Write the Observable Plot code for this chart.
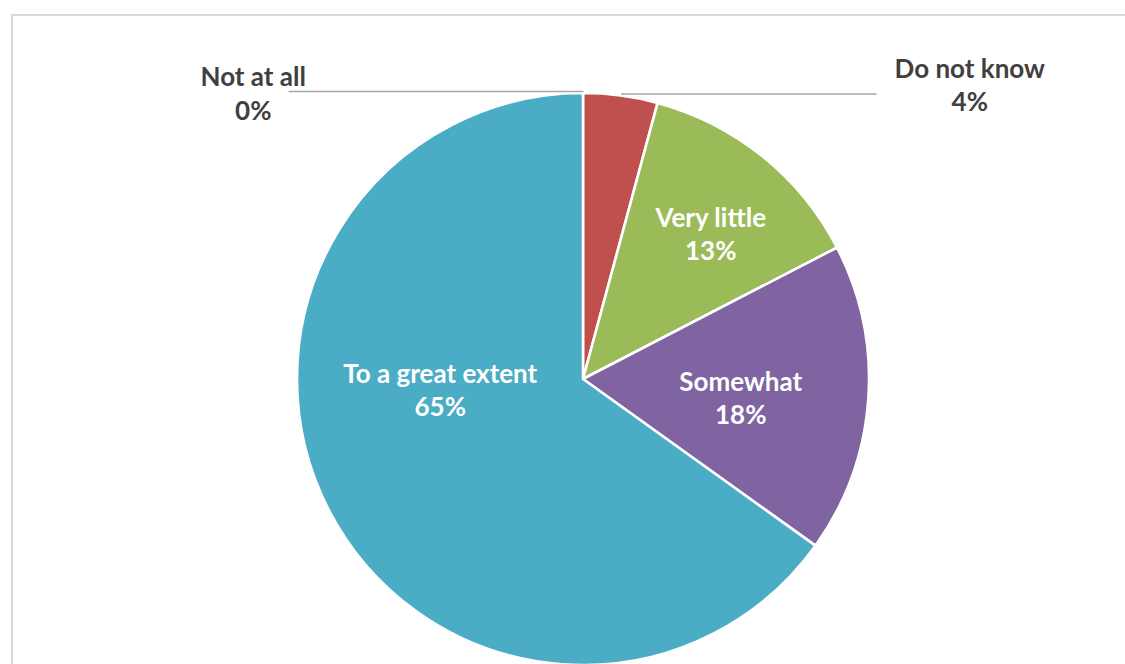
<!DOCTYPE html>
<html>
<head>
<meta charset="utf-8">
<script src="https://cdn.jsdelivr.net/npm/d3@7"></script>
<script src="https://cdn.jsdelivr.net/npm/@observablehq/plot@0.6"></script>
<style>
  html, body { margin: 0; padding: 0; background: #fff; }
  #wrap { position: relative; width: 1125px; height: 664px; overflow: hidden; }
  #frame { position: absolute; left: 10.5px; top: 14px; width: 1200px; height: 800px;
           border-left: 2px solid #d9d9d9; border-top: 2px solid #d9d9d9; pointer-events: none; }
  svg { display: block; }
</style>
</head>
<body>
<div id="wrap"><div id="chart"></div><div id="frame"></div></div>
<script>
// ---- data ----
const categories = ["Not at all", "Do not know", "Very little", "Somewhat", "To a great extent"];
const values = [0, 4.2, 13.2, 17.5, 65.1];
const colors = ["#4BACC6", "#C0504D", "#9BBB59", "#8064A2", "#4BACC6"];

// label placement: [angle in degrees clockwise from top, distance as fraction of radius]
const labelPlacement = [[311.0, 1.530], [52.6, 1.700], [41.0, 0.678], [96.2, 0.553], [266.3, 0.502]];
const labelInside = [false, false, true, true, true];
// leader line outer end (x in radius units) for outside labels
const leaderEnd = [-1.031, 1.024, null, null, null];

// ---- layout (pie centre / radius expressed through scale domains) ----
const W = 1125, H = 664, CX = 583, CY = 379, R = 286;

const slices = categories.map((c, i) => ({category: c, value: values[i], color: colors[i]}));
const pie = d3.pie().sort(null).value(d => d.value)(slices);

const labels = slices.map((d, i) => {
  const a = labelPlacement[i][0] * Math.PI / 180, r = labelPlacement[i][1];
  return {
    text: d.category + "\n" + Math.round(d.value) + "%",
    x: r * Math.sin(a), y: r * Math.cos(a),
    fill: labelInside[i] ? "#ffffff" : "#404040"
  };
});

const leaders = pie.map((p, i) => {
  if (leaderEnd[i] == null) return null;
  const m = (p.startAngle + p.endAngle) / 2;
  const y = 1.007 * Math.cos(m);
  return {x1: Math.sin(m), y1: y, x2: leaderEnd[i], y2: y};
}).filter(d => d);

function pieMark(index, scales) {
  const cx = scales.x(0), cy = scales.y(0), rad = scales.x(1) - scales.x(0);
  const arc = d3.arc().innerRadius(0).outerRadius(rad);
  const g = d3.create("svg:g").attr("transform", `translate(${cx},${cy})`);
  g.selectAll("path").data(pie.filter(p => p.value > 0)).join("path")
    .attr("d", arc)
    .attr("fill", p => p.data.color)
    .attr("stroke", "#ffffff")
    .attr("stroke-width", 2.6)
    .attr("stroke-linejoin", "round");
  return g.node();
}

const chart = Plot.plot({
  width: W, height: H,
  margin: 0,
  style: {fontFamily: "Lato, 'Open Sans', sans-serif", background: "#ffffff"},
  x: {domain: [-CX / R, (W - CX) / R], axis: null},
  y: {domain: [-(H - CY) / R, CY / R], axis: null},
  marks: [
    pieMark,
    Plot.link(leaders, {x1: "x1", y1: "y1", x2: "x2", y2: "y2", stroke: "#a6a6a6", strokeWidth: 1.6}),
    Plot.text(labels, {x: "x", y: "y", text: "text", fill: "fill", fontSize: 26, fontWeight: "bold",
      lineHeight: 1.28, lineAnchor: "middle", textAnchor: "middle"})
  ]
});
document.getElementById("chart").appendChild(chart);
</script>
</body>
</html>
